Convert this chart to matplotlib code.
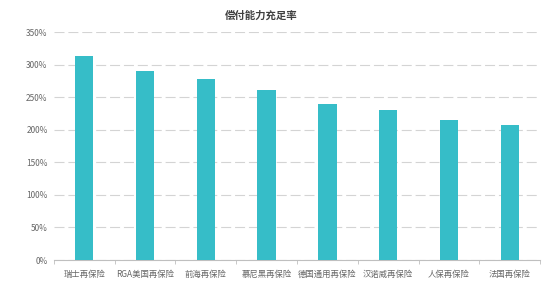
import numpy as np
import matplotlib.pyplot as plt
from matplotlib.ticker import FuncFormatter

plt.rcParams['font.family'] = ['Noto Sans CJK SC', 'DejaVu Sans']

companies = ['瑞士再保险', 'RGA美国再保险', '前海再保险', '慕尼黑再保险',
             '德国通用再保险', '汉诺威再保险', '人保再保险', '法国再保险']
ratio = [313, 290, 278, 261, 240, 230, 215, 207]
yticks = [0, 50, 100, 150, 200, 250, 300, 350]

fig = plt.figure(figsize=(5.5, 2.91), dpi=100)
ax = fig.add_axes([0.098, 0.1065, 0.884, 0.7835])

x = np.arange(len(companies))
ax.bar(x, ratio, width=0.3, color='#36BDC8', zorder=3)

ax.set_xlim(-0.5, len(companies) - 0.5)
ax.set_ylim(0, 350)
ax.set_yticks(yticks)
ax.yaxis.set_major_formatter(FuncFormatter(lambda v, p: f'{int(v)}%'))
ax.grid(axis='y', color='#D4D4D4', linestyle=(0, (9, 3.5)), linewidth=0.8, zorder=0)

ax.set_xticks(x)
ax.set_xticklabels(companies)
ax.set_xticks(np.arange(len(companies) + 1) - 0.5, minor=True)
ax.tick_params(axis='x', which='major', length=0, labelsize=6, colors='#666666', pad=7)
ax.tick_params(axis='x', which='minor', length=3, color='#BFBFBF')
ax.tick_params(axis='y', length=0, labelsize=6, colors='#666666', pad=4.5)

for s in ['top', 'right', 'left']:
    ax.spines[s].set_visible(False)
ax.spines['bottom'].set_color('#BFBFBF')
ax.spines['bottom'].set_linewidth(0.8)

fig.text(0.475, 0.946, '偿付能力充足率', ha='center', va='center',
         fontsize=7.5, fontweight='bold', color='#404040')

fig.savefig('out.png', dpi=100)
